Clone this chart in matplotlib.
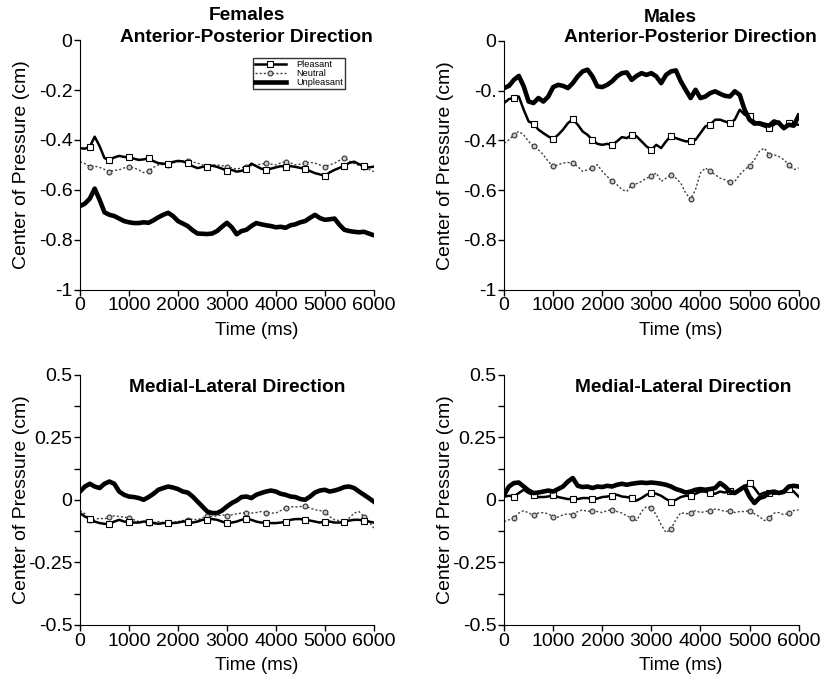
import numpy as np
import matplotlib
matplotlib.use("Agg")
import matplotlib.pyplot as plt

plt.rcParams['font.family'] = ['Liberation Sans', 'DejaVu Sans']

# time axis, 100 ms steps
time_ms = np.arange(0, 6001, 100)

# Females, anterior-posterior
fem_ap_pleasant = [-0.433, -0.435, -0.427, -0.387, -0.425, -0.473, -0.480, -0.470, -0.464, -0.468,
                   -0.470, -0.475, -0.480, -0.478, -0.473, -0.485, -0.493, -0.495, -0.496, -0.488,
                   -0.484, -0.486, -0.493, -0.505, -0.513, -0.508, -0.507, -0.503, -0.508, -0.515,
                   -0.523, -0.520, -0.527, -0.524, -0.515, -0.495, -0.505, -0.515, -0.520, -0.515,
                   -0.510, -0.505, -0.507, -0.505, -0.508, -0.512, -0.515, -0.525, -0.533, -0.538,
                   -0.544, -0.530, -0.520, -0.512, -0.503, -0.492, -0.487, -0.497, -0.505, -0.510,
                   -0.507]
fem_ap_neutral = [-0.487, -0.495, -0.507, -0.505, -0.510, -0.518, -0.527, -0.522, -0.520, -0.512,
                  -0.507, -0.512, -0.520, -0.531, -0.525, -0.510, -0.500, -0.498, -0.500, -0.492,
                  -0.487, -0.485, -0.483, -0.488, -0.493, -0.500, -0.507, -0.500, -0.500, -0.503,
                  -0.507, -0.512, -0.517, -0.512, -0.507, -0.502, -0.500, -0.497, -0.493, -0.497,
                  -0.500, -0.492, -0.487, -0.492, -0.500, -0.497, -0.493, -0.490, -0.493, -0.500,
                  -0.507, -0.500, -0.493, -0.482, -0.473, -0.485, -0.495, -0.502, -0.510, -0.518,
                  -0.527]
fem_ap_unpleasant = [-0.665, -0.655, -0.635, -0.595, -0.640, -0.690, -0.700, -0.705, -0.715, -0.725,
                     -0.730, -0.733, -0.733, -0.730, -0.732, -0.722, -0.710, -0.700, -0.692, -0.705,
                     -0.725, -0.735, -0.745, -0.762, -0.775, -0.776, -0.777, -0.775, -0.765, -0.748,
                     -0.732, -0.750, -0.778, -0.765, -0.760, -0.745, -0.733, -0.738, -0.742, -0.745,
                     -0.750, -0.748, -0.752, -0.742, -0.738, -0.730, -0.725, -0.712, -0.700, -0.713,
                     -0.720, -0.718, -0.715, -0.740, -0.760, -0.765, -0.768, -0.770, -0.768, -0.775,
                     -0.782]

# Males, anterior-posterior
male_ap_pleasant = [-0.250, -0.234, -0.230, -0.224, -0.277, -0.324, -0.333, -0.357, -0.371, -0.384,
                    -0.395, -0.378, -0.357, -0.331, -0.315, -0.337, -0.364, -0.378, -0.398, -0.414,
                    -0.418, -0.414, -0.418, -0.404, -0.387, -0.391, -0.378, -0.384, -0.404, -0.424,
                    -0.438, -0.418, -0.431, -0.404, -0.382, -0.391, -0.398, -0.404, -0.404, -0.398,
                    -0.371, -0.344, -0.337, -0.317, -0.317, -0.324, -0.331, -0.317, -0.277, -0.297,
                    -0.304, -0.324, -0.337, -0.344, -0.351, -0.337, -0.324, -0.351, -0.331, -0.337,
                    -0.337]
male_ap_neutral = [-0.411, -0.398, -0.377, -0.364, -0.378, -0.404, -0.424, -0.438, -0.458, -0.485,
                   -0.505, -0.498, -0.491, -0.489, -0.491, -0.505, -0.525, -0.518, -0.511, -0.498,
                   -0.525, -0.545, -0.565, -0.578, -0.598, -0.605, -0.578, -0.574, -0.565, -0.552,
                   -0.545, -0.531, -0.565, -0.552, -0.538, -0.552, -0.572, -0.612, -0.636, -0.598,
                   -0.531, -0.511, -0.525, -0.538, -0.552, -0.558, -0.569, -0.565, -0.538, -0.518,
                   -0.502, -0.478, -0.444, -0.431, -0.458, -0.458, -0.465, -0.478, -0.498, -0.518,
                   -0.511]
male_ap_unpleasant = [-0.190, -0.181, -0.157, -0.141, -0.183, -0.244, -0.250, -0.230, -0.244, -0.224,
                      -0.186, -0.177, -0.181, -0.190, -0.170, -0.143, -0.123, -0.116, -0.143, -0.183,
                      -0.186, -0.177, -0.163, -0.143, -0.130, -0.127, -0.157, -0.141, -0.130, -0.137,
                      -0.130, -0.143, -0.170, -0.137, -0.123, -0.119, -0.163, -0.197, -0.230, -0.197,
                      -0.230, -0.224, -0.210, -0.203, -0.213, -0.221, -0.224, -0.203, -0.217, -0.277,
                      -0.317, -0.333, -0.331, -0.337, -0.341, -0.324, -0.331, -0.351, -0.337, -0.341,
                      -0.301]

# Females, medial-lateral
fem_ml_pleasant = [-0.053, -0.067, -0.077, -0.087, -0.093, -0.096, -0.096, -0.087, -0.080, -0.087,
                   -0.087, -0.091, -0.091, -0.087, -0.087, -0.093, -0.096, -0.093, -0.093, -0.093,
                   -0.091, -0.087, -0.087, -0.091, -0.087, -0.080, -0.080, -0.077, -0.080, -0.087,
                   -0.093, -0.091, -0.087, -0.080, -0.077, -0.080, -0.087, -0.091, -0.091, -0.093,
                   -0.093, -0.091, -0.087, -0.080, -0.077, -0.077, -0.080, -0.083, -0.087, -0.091,
                   -0.087, -0.087, -0.091, -0.091, -0.087, -0.083, -0.080, -0.080, -0.083, -0.087,
                   -0.091]
fem_ml_neutral = [-0.043, -0.056, -0.080, -0.080, -0.073, -0.077, -0.067, -0.064, -0.067, -0.069,
                  -0.073, -0.080, -0.087, -0.091, -0.093, -0.091, -0.087, -0.091, -0.093, -0.091,
                  -0.087, -0.083, -0.080, -0.077, -0.080, -0.073, -0.064, -0.067, -0.064, -0.060,
                  -0.064, -0.060, -0.056, -0.053, -0.051, -0.053, -0.051, -0.047, -0.051, -0.053,
                  -0.053, -0.043, -0.033, -0.027, -0.029, -0.027, -0.024, -0.033, -0.040, -0.043,
                  -0.047, -0.067, -0.080, -0.083, -0.087, -0.073, -0.053, -0.047, -0.067, -0.087,
                  -0.113]
fem_ml_unpleasant = [0.033, 0.053, 0.064, 0.053, 0.047, 0.064, 0.073, 0.064, 0.033, 0.020,
                     0.013, 0.011, 0.007, 0.000, 0.011, 0.024, 0.040, 0.047, 0.053, 0.049,
                     0.043, 0.033, 0.029, 0.013, -0.007, -0.027, -0.047, -0.053, -0.053, -0.043,
                     -0.027, -0.013, -0.003, 0.011, 0.013, 0.007, 0.020, 0.027, 0.033, 0.037,
                     0.033, 0.024, 0.020, 0.013, 0.011, 0.003, 0.000, 0.013, 0.029, 0.037,
                     0.040, 0.033, 0.037, 0.043, 0.051, 0.053, 0.047, 0.033, 0.020, 0.007,
                     -0.007]

# Males, medial-lateral
male_ml_pleasant = [0.013, 0.016, 0.013, 0.027, 0.040, 0.027, 0.020, 0.011, 0.011, 0.013,
                    0.020, 0.011, 0.007, 0.003, 0.003, 0.003, 0.007, 0.007, 0.003, 0.005,
                    0.011, 0.013, 0.016, 0.020, 0.013, 0.011, 0.007, -0.003, 0.007, 0.020,
                    0.029, 0.024, 0.016, 0.003, -0.007, 0.000, 0.011, 0.016, 0.016, 0.024,
                    0.033, 0.033, 0.027, 0.024, 0.033, 0.029, 0.037, 0.027, 0.040, 0.053,
                    0.067, 0.047, 0.020, 0.029, 0.029, 0.024, 0.027, 0.027, 0.043, 0.033,
                    0.013]
male_ml_neutral = [-0.087, -0.080, -0.073, -0.053, -0.043, -0.053, -0.060, -0.053, -0.051, -0.056,
                   -0.067, -0.069, -0.060, -0.056, -0.060, -0.047, -0.040, -0.047, -0.043, -0.047,
                   -0.051, -0.043, -0.040, -0.047, -0.053, -0.064, -0.073, -0.083, -0.047, -0.027,
                   -0.033, -0.060, -0.100, -0.131, -0.117, -0.080, -0.051, -0.056, -0.053, -0.043,
                   -0.051, -0.047, -0.043, -0.037, -0.040, -0.047, -0.043, -0.051, -0.047, -0.047,
                   -0.043, -0.056, -0.067, -0.083, -0.073, -0.053, -0.051, -0.060, -0.053, -0.043,
                   -0.040]
male_ml_unpleasant = [0.020, 0.053, 0.067, 0.069, 0.053, 0.037, 0.027, 0.029, 0.033, 0.037,
                      0.033, 0.043, 0.053, 0.073, 0.087, 0.056, 0.051, 0.053, 0.047, 0.053,
                      0.051, 0.056, 0.053, 0.060, 0.064, 0.060, 0.064, 0.067, 0.069, 0.067,
                      0.069, 0.067, 0.064, 0.060, 0.053, 0.043, 0.037, 0.029, 0.033, 0.040,
                      0.043, 0.040, 0.043, 0.047, 0.067, 0.053, 0.033, 0.027, 0.040, 0.053,
                      0.013, -0.013, 0.007, 0.013, 0.029, 0.033, 0.027, 0.033, 0.053, 0.056,
                      0.053]

ap_ticks = [0, -0.2, -0.4, -0.6, -0.8, -1]
fem_ap_ticklabels = ['0', '-0.2', '-0.4', '-0.6', '-0.8', '-1']
male_ap_ticklabels = ['0', '-0.', '-0.4', '-0.6', '-0.8', '-1']
ml_ticks = [0.5, 0.25, 0, -0.25, -0.5]
ml_ticklabels = ['0.5', '0.25', '0', '-0.25', '-0.5']
ml_minor = [0.375, 0.125, -0.125, -0.375]
x_ticks = [0, 1000, 2000, 3000, 4000, 5000, 6000]

FS = 14

fig = plt.figure(figsize=(8.25, 6.8), dpi=100)
ax_tl = fig.add_axes([0.097, 0.574, 0.356, 0.367])
ax_tr = fig.add_axes([0.611, 0.574, 0.357, 0.366])
ax_bl = fig.add_axes([0.097, 0.081, 0.356, 0.368])
ax_br = fig.add_axes([0.611, 0.081, 0.357, 0.368])


def draw(ax, pleasant, neutral, unpleasant):
    ax.plot(time_ms, neutral, color='0.25', lw=1.0, ls=(0, (1.5, 1.5)),
            marker='o', ms=3.5, mfc='0.8', mec='0.2', mew=0.8, markevery=(2, 4),
            label='Neutral')
    ax.plot(time_ms, pleasant, color='black', lw=1.8,
            marker='s', ms=4.5, mfc='white', mec='black', mew=0.8, markevery=(2, 4),
            label='Pleasant')
    ax.plot(time_ms, unpleasant, color='black', lw=3.3, label='Unpleasant')
    ax.set_xlim(0, 6000)
    ax.set_xticks(x_ticks)
    ax.spines['top'].set_visible(False)
    ax.spines['right'].set_visible(False)
    ax.tick_params(direction='out', length=4, width=1, labelsize=FS, pad=1.5)
    ax.tick_params(which='minor', direction='out', length=4, width=1)
    ax.set_xlabel('Time (ms)', fontsize=13.5)
    ax.set_ylabel('Center of Pressure (cm)', fontsize=FS)
    ax.xaxis.set_label_coords(0.6, -0.128)
    ax.yaxis.set_label_coords(-0.17, 0.5)


draw(ax_tl, fem_ap_pleasant, fem_ap_neutral, fem_ap_unpleasant)
draw(ax_tr, male_ap_pleasant, male_ap_neutral, male_ap_unpleasant)
draw(ax_bl, fem_ml_pleasant, fem_ml_neutral, fem_ml_unpleasant)
draw(ax_br, male_ml_pleasant, male_ml_neutral, male_ml_unpleasant)

for ax, labels in [(ax_tl, fem_ap_ticklabels), (ax_tr, male_ap_ticklabels)]:
    ax.set_ylim(-1, 0)
    ax.set_yticks(ap_ticks)
    ax.set_yticklabels(labels)

for ax in [ax_bl, ax_br]:
    ax.set_ylim(-0.5, 0.5)
    ax.set_yticks(ml_ticks)
    ax.set_yticklabels(ml_ticklabels)
    ax.set_yticks(ml_minor, minor=True)

# titles
TS = 13.8
fig.text(247 / 825, 1 - 16 / 680, 'Females', ha='center', va='center',
         fontsize=TS, fontweight='bold')
fig.text(246 / 825, 1 - 38 / 680, 'Anterior-Posterior Direction', ha='center', va='center',
         fontsize=TS, fontweight='bold')
fig.text(670 / 825, 1 - 18 / 680, 'Males', ha='center', va='center',
         fontsize=TS, fontweight='bold')
fig.text(690 / 825, 1 - 37 / 680, 'Anterior-Posterior Direction', ha='center', va='center',
         fontsize=TS, fontweight='bold')
fig.text(237 / 825, 1 - 387 / 680, 'Medial-Lateral Direction', ha='center', va='center',
         fontsize=TS, fontweight='bold')
fig.text(683 / 825, 1 - 387 / 680, 'Medial-Lateral Direction', ha='center', va='center',
         fontsize=TS, fontweight='bold')

handles, labels = ax_tl.get_legend_handles_labels()
order = [1, 0, 2]
leg = ax_tl.legend([handles[i] for i in order], [labels[i] for i in order],
                   loc='upper left', bbox_to_anchor=(0.588, 0.928), fontsize=6.6,
                   frameon=True, fancybox=False, edgecolor='black',
                   handlelength=3.4, borderpad=0.2, labelspacing=0.0,
                   handletextpad=1.2, borderaxespad=0)
leg.get_frame().set_linewidth(1.0)
for h in leg.legend_handles:
    h.set_markevery([1])

fig.savefig('out.png', dpi=100)
